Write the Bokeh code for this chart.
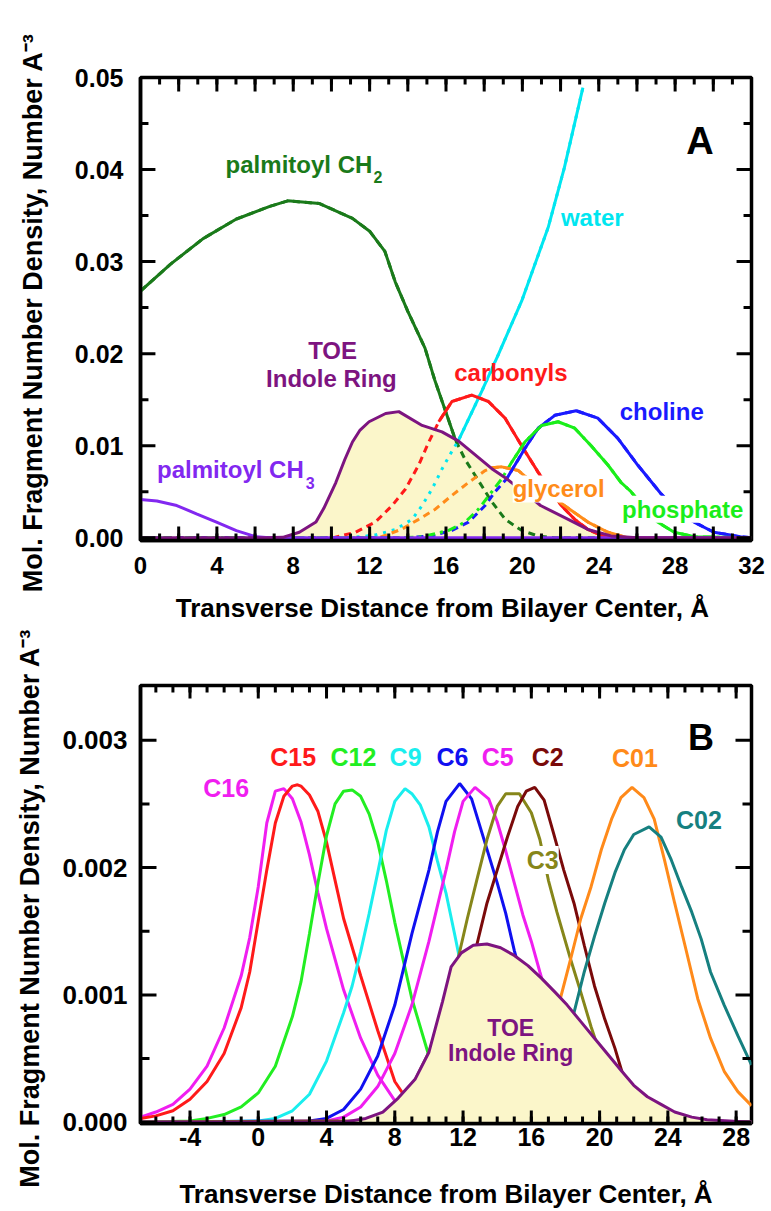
import numpy as np
from bokeh.plotting import figure
from bokeh.models import (FixedTicker, Label, NumeralTickFormatter, Range1d)
from bokeh.layouts import column
from bokeh.embed import file_html
from bokeh.resources import INLINE

FONT = "Liberation Sans"

# ---------------- Panel A data ----------------
a_x_labels = list(range(0, 33, 4))
a_x_long = list(range(0, 33, 2))
a_x_short = list(range(0, 33))
a_y_ticks = [0.0, 0.01, 0.02, 0.03, 0.04, 0.05]
a_y_minor = [0.005, 0.015, 0.025, 0.035, 0.045]

ch2_x = [0, 1.56, 3.28, 5.0, 6.77, 7.71, 9.38, 11.1, 12.0, 12.8, 13.34, 14.0, 14.9, 15.4, 16.0, 16.5, 17.0, 17.7, 18.4, 19.1, 19.96, 20.8, 21.7, 32]
ch2_y = [0.0268, 0.0297, 0.0325, 0.0346, 0.0360, 0.0366, 0.0363, 0.0347, 0.0333, 0.0311, 0.0278, 0.0246, 0.0206, 0.0172, 0.0136, 0.0106, 0.0085, 0.0062, 0.0039, 0.0020, 0.0008, 0.0002, 0.0, 0.0]

water_x = [0, 10.5, 11.5, 12.3, 13.36, 14.23, 14.75, 15.27, 15.8, 16.2, 16.66, 17.87, 18.74, 19.96, 21.35, 22.2, 23.17]
water_y = [0, 0, 0.0001, 0.0003, 0.0009, 0.0020, 0.0035, 0.0053, 0.0075, 0.0090, 0.0106, 0.0159, 0.0199, 0.0257, 0.0337, 0.0402, 0.0489]

carb_x = [0, 10.1, 11.27, 12.3, 13.18, 13.88, 14.57, 15.1, 15.62, 16.31, 17.35, 18.22, 19.09, 19.96, 20.83, 22.04, 22.74, 23.43, 24.1, 24.8, 32]
carb_y = [0, 0, 0.0006, 0.0017, 0.0035, 0.0053, 0.0079, 0.0104, 0.0126, 0.0148, 0.0155, 0.0148, 0.0130, 0.0100, 0.0071, 0.0035, 0.0020, 0.0009, 0.0003, 0.0, 0]

gly_x = [0, 12.5, 13.7, 14.57, 15.44, 16.31, 17.18, 18.05, 18.4, 18.92, 19.79, 20.3, 22.2, 23.43, 24.48, 25.5, 32]
gly_y = [0, 0, 0.00095, 0.0020, 0.0031, 0.0046, 0.0060, 0.0073, 0.0076, 0.0077, 0.0073, 0.0064, 0.0035, 0.0017, 0.0006, 0, 0]

phos_x = [0, 13.5, 14.75, 16.14, 17.0, 17.7, 18.4, 18.92, 19.44, 20.13, 21.0, 21.87, 22.74, 23.6, 24.48, 25.17, 25.69, 26.4, 27.08, 27.95, 29.0, 32]
phos_y = [0, 0, 0.0001, 0.0008, 0.0017, 0.0031, 0.0050, 0.0064, 0.0082, 0.0104, 0.0122, 0.0126, 0.0119, 0.0100, 0.0079, 0.0060, 0.0050, 0.0032, 0.0017, 0.0006, 0.0001, 0]

chol_x = [0, 14.0, 15.27, 16.31, 17.18, 18.05, 18.57, 19.18, 19.61, 20.13, 20.83, 21.7, 22.82, 23.95, 25.0, 26.04, 26.9, 27.25, 28.1, 28.99, 30.03, 31.42, 32]
chol_y = [0, 0, 0.0002, 0.0008, 0.0017, 0.0035, 0.0050, 0.0064, 0.0079, 0.0097, 0.0119, 0.0133, 0.0138, 0.0130, 0.0108, 0.0079, 0.0057, 0.0048, 0.0030, 0.0017, 0.0006, 0.0001, 0]

ch3_x = [0, 0.86, 1.9, 2.93, 3.98, 5.02, 6.06, 6.74, 32]
ch3_y = [0.00415, 0.0040, 0.0035, 0.0026, 0.0017, 0.00077, 0.0001, 0.0, 0.0]

toeA_x = [0, 6.6, 7.45, 8.32, 9.19, 9.6, 10.23, 10.7, 11.1, 11.5, 11.97, 12.84, 13.53, 14.75, 15.79, 16.66, 17.53, 18.4, 19.18, 20.3, 20.95, 22.4, 23.43, 24.65, 26.0, 32]
toeA_y = [0, 0, 0.00004, 0.0006, 0.0017, 0.0032, 0.0060, 0.0085, 0.0104, 0.0117, 0.0126, 0.0135, 0.0137, 0.0122, 0.0115, 0.0105, 0.0090, 0.0075, 0.0064, 0.0046, 0.0035, 0.0020, 0.0009, 0.0002, 0.0, 0]

# ---------------- Panel B data ----------------
b_x_ticks = list(range(-4, 29, 4))
b_x_minor = list(range(-6, 29))
b_y_ticks = [0.0, 0.001, 0.002, 0.003]
b_y_minor = [0.0005, 0.0015, 0.0025]

c16_x = [-6.9, -6.0, -5.0, -4.0, -3.0, -2.0, -1.0, -0.5, 0.0, 0.5, 1.0, 1.5, 2.0, 2.5, 3.0, 3.5, 4.0, 5.0, 6.0, 7.0, 8.0, 9.0, 10.0, 12.0, 28.9]
c16_y = [0.00004, 0.00008, 0.00014, 0.00026, 0.00044, 0.00074, 0.00115, 0.00145, 0.00185, 0.00235, 0.00260, 0.00262, 0.00254, 0.00236, 0.00210, 0.00180, 0.00152, 0.00104, 0.00066, 0.00037, 0.00017, 0.00007, 0.00003, 0.0, 0.0]

c15_x = [-6.9, -6.0, -5.0, -4.0, -3.0, -2.0, -1.0, -0.5, 0.0, 0.5, 1.0, 1.5, 2.0, 2.3, 2.5, 3.0, 3.5, 4.0, 4.5, 5.0, 6.0, 7.0, 8.0, 9.0, 10.0, 11.0, 13.0, 28.9]
c15_y = [0.00003, 0.00005, 0.00009, 0.00018, 0.00032, 0.00054, 0.00090, 0.00118, 0.00158, 0.00198, 0.00235, 0.00256, 0.00264, 0.00265, 0.00264, 0.00257, 0.00244, 0.00220, 0.00190, 0.00160, 0.00115, 0.00072, 0.00032, 0.00012, 0.00004, 0.00001, 0.0, 0.0]

c12_x = [-6.9, -4.0, -3.0, -2.0, -1.0, 0.0, 1.0, 2.0, 2.5, 3.0, 3.5, 4.0, 4.5, 5.0, 5.5, 6.0, 6.5, 7.0, 7.5, 8.0, 9.0, 10.0, 11.0, 12.0, 13.0, 15.0, 28.9]
c12_y = [0.0, 0.00001, 0.00003, 0.00006, 0.00012, 0.00023, 0.00044, 0.00083, 0.00110, 0.00148, 0.00188, 0.00225, 0.00250, 0.00260, 0.00261, 0.00256, 0.00242, 0.00220, 0.00190, 0.00157, 0.00097, 0.00052, 0.00024, 0.00010, 0.00004, 0.0, 0.0]

c9_x = [-6.9, 0.0, 1.0, 2.0, 3.0, 4.0, 5.0, 5.5, 6.0, 6.5, 7.0, 7.5, 8.0, 8.6, 9.0, 9.5, 10.0, 10.5, 11.0, 11.5, 12.0, 13.0, 14.0, 15.0, 16.0, 17.0, 19.0, 28.9]
c9_y = [0.0, 0.00001, 0.00003, 0.00009, 0.00022, 0.00048, 0.00086, 0.00107, 0.00134, 0.00164, 0.00196, 0.00229, 0.00252, 0.00262, 0.00258, 0.00249, 0.00232, 0.00205, 0.00180, 0.00148, 0.00115, 0.00062, 0.00028, 0.00011, 0.00004, 0.00001, 0.0, 0.0]

c6_x = [-6.9, 3.0, 4.0, 5.0, 6.0, 7.0, 8.0, 9.0, 10.0, 10.5, 11.0, 11.8, 12.5, 13.0, 13.5, 14.0, 14.5, 15.0, 16.0, 17.0, 18.0, 19.0, 20.0, 22.0, 28.9]
c6_y = [0.0, 0.00001, 0.00003, 0.00010, 0.00026, 0.00052, 0.00092, 0.00148, 0.00198, 0.00228, 0.00252, 0.00266, 0.00254, 0.00232, 0.00210, 0.00188, 0.00164, 0.00135, 0.00085, 0.00045, 0.00020, 0.00008, 0.00003, 0.0, 0.0]

c5_x = [-6.9, 4.0, 5.0, 6.0, 7.0, 8.0, 9.0, 10.0, 11.0, 11.5, 12.0, 12.7, 13.5, 14.0, 14.5, 15.0, 15.5, 16.0, 16.5, 17.0, 18.0, 19.0, 20.0, 21.0, 23.0, 28.9]
c5_y = [0.0, 0.00001, 0.00004, 0.00012, 0.00028, 0.00054, 0.00092, 0.00142, 0.00198, 0.00228, 0.00252, 0.00263, 0.00254, 0.00236, 0.00213, 0.00188, 0.00163, 0.00142, 0.00118, 0.00095, 0.00056, 0.00028, 0.00012, 0.00004, 0.0, 0.0]

c3_x = [-6.9, 6.0, 7.0, 8.0, 9.0, 10.0, 11.0, 11.7, 12.25, 12.8, 13.4, 14.0, 14.5, 15.3, 16.0, 16.5, 17.0, 17.5, 18.3, 18.9, 19.5, 20.0, 21.0, 22.0, 23.0, 25.0, 28.9]
c3_y = [0.0, 0.00001, 0.00004, 0.00012, 0.00028, 0.00055, 0.00095, 0.00128, 0.00160, 0.00190, 0.00222, 0.00248, 0.00258, 0.00258, 0.00243, 0.00222, 0.00190, 0.00165, 0.00128, 0.00102, 0.00075, 0.00055, 0.00028, 0.00012, 0.00005, 0.0, 0.0]

c2_x = [-6.9, 7.0, 8.0, 9.0, 10.0, 11.0, 12.0, 12.8, 13.4, 14.0, 14.6, 15.2, 15.7, 16.2, 16.75, 17.3, 17.9, 18.5, 19.1, 19.7, 20.3, 20.9, 21.3, 22.0, 23.0, 24.0, 25.0, 27.0, 28.9]
c2_y = [0.0, 0.00001, 0.00004, 0.00012, 0.00030, 0.00060, 0.00100, 0.00139, 0.00172, 0.00198, 0.00224, 0.00248, 0.00260, 0.00263, 0.00253, 0.00227, 0.00198, 0.00172, 0.00139, 0.00107, 0.00081, 0.00058, 0.00040, 0.00024, 0.00010, 0.00004, 0.00001, 0.0, 0.0]

c01_x = [-6.9, 12.0, 13.0, 14.0, 15.0, 16.0, 17.0, 17.7, 18.3, 18.9, 19.5, 20.1, 20.7, 21.25, 21.9, 22.6, 23.2, 23.8, 24.4, 25.0, 25.75, 26.5, 27.3, 28.1, 28.9]
c01_y = [0.0, 0.0, 0.00002, 0.00006, 0.00016, 0.00035, 0.00066, 0.00097, 0.00128, 0.00160, 0.00185, 0.00214, 0.00238, 0.00255, 0.00263, 0.00255, 0.00238, 0.00206, 0.00172, 0.00139, 0.00097, 0.00066, 0.00040, 0.00024, 0.00013]

c02_x = [-6.9, 12.0, 13.0, 14.0, 15.0, 16.0, 17.0, 18.0, 18.5, 19.1, 19.7, 20.3, 20.9, 21.45, 22.0, 22.9, 23.6, 24.2, 24.8, 25.4, 25.95, 26.5, 27.3, 28.1, 28.9]
c02_y = [0.0, 0.0, 0.00002, 0.00006, 0.00013, 0.00025, 0.00042, 0.00064, 0.00086, 0.00118, 0.00146, 0.00172, 0.00196, 0.00214, 0.00226, 0.00232, 0.00224, 0.00206, 0.00185, 0.00165, 0.00144, 0.00118, 0.00092, 0.00068, 0.00045]

toeB_x = [-6.9, 5.0, 6.3, 7.3, 8.2, 9.2, 10.0, 10.8, 11.3, 11.9, 12.6, 13.4, 14.2, 15.0, 15.8, 16.6, 17.4, 18.1, 18.9, 19.7, 20.5, 21.3, 22.0, 22.8, 23.6, 24.4, 25.4, 26.3, 28.9]
toeB_y = [0.0, 0.0, 0.00003, 0.00008, 0.00019, 0.00034, 0.00055, 0.00095, 0.00122, 0.00133, 0.00139, 0.00140, 0.00137, 0.00131, 0.00123, 0.00113, 0.00102, 0.00092, 0.00079, 0.00066, 0.00053, 0.00040, 0.00029, 0.00020, 0.00014, 0.00008, 0.00004, 0.00002, 0.0]

# ---------------- styles ----------------
TOE_COLOR = "#7d1480"
FILL_COLOR = "#fbf6ca"
LW = 3
W = 771

A_X0, A_X1, A_Y0, A_Y1 = 0, 32, -0.0003, 0.05
B_X0, B_X1, B_Y0, B_Y1 = -6.9, 28.9, -0.00001, 0.00343

A_H, A_BL, A_BR, A_BT, A_BB = 628, 137, 20, 77, 88
B_H, B_BL, B_BR, B_BT, B_BB = 583, 140, 20, 57, 88


def style_axis(ax, ticker, fmt, fs, standoff):
    ax.ticker = ticker
    ax.formatter = fmt
    ax.axis_line_width = 3.5
    ax.axis_line_color = "black"
    ax.major_tick_in = 0
    ax.major_tick_out = 0
    ax.minor_tick_in = 0
    ax.minor_tick_out = 0
    ax.major_label_text_font = FONT
    ax.major_label_text_font_style = "bold"
    ax.major_label_text_font_size = f"{fs}px"
    ax.major_label_text_color = "black"
    ax.major_label_standoff = standoff


def style_title(ax, fs, standoff):
    ax.axis_label_text_font = FONT
    ax.axis_label_text_font_style = "bold"
    ax.axis_label_text_font_size = f"{fs}px"
    ax.axis_label_text_color = "black"
    ax.axis_label_standoff = standoff


def draw_ticks(p, xr, yr, fw, fh, xlong, xshort, ylong, yshort, lx, sx, ly, sy):
    """Inward ticks on all four frame sides (tick values from the tick lists)."""
    x0, x1 = xr
    y0, y1 = yr
    dx = (x1 - x0) / fw
    dy = (y1 - y0) / fh
    a0, b0, a1, b1 = [], [], [], []
    for ticks, L in ((xlong, lx), (xshort, sx)):
        for t in ticks:
            a0 += [t, t]; a1 += [t, t]
            b0 += [y0, y1]; b1 += [y0 + L * dy, y1 - L * dy]
    for ticks, L in ((ylong, ly), (yshort, sy)):
        for t in ticks:
            b0 += [t, t]; b1 += [t, t]
            a0 += [x0, x1]; a1 += [x0 + L * dx, x1 - L * dx]
    p.segment(a0, b0, a1, b1, line_color="black", line_width=3)


def label(p, x, y, text, color, fs, align="center", baseline="middle", bg=None):
    lab = Label(x=x, y=y, text=text, text_color=color, text_font=FONT,
                text_font_style="bold", text_font_size=f"{fs}px",
                text_align=align, text_baseline=baseline)
    if bg is not None:
        lab.background_fill_color = bg
    p.add_layout(lab)


def solid_part(x, y, tx, ty, tol=0.0003):
    x = np.asarray(x, float)
    y = np.asarray(y, float)
    t = np.interp(x, tx, ty)
    return np.where(y >= t - tol, y, np.nan)


# ---------------- Panel A ----------------
pA = figure(width=W, height=A_H, x_range=Range1d(A_X0, A_X1), y_range=Range1d(A_Y0, A_Y1),
            output_backend="svg", toolbar_location=None,
            min_border_left=A_BL, min_border_right=A_BR, min_border_top=A_BT, min_border_bottom=A_BB)
pA.grid.visible = False
pA.outline_line_color = "black"
pA.outline_line_width = 3.5

style_axis(pA.xaxis[0], FixedTicker(ticks=a_x_labels), NumeralTickFormatter(format="0"), 24, 16)
style_axis(pA.yaxis[0], FixedTicker(ticks=a_y_ticks), NumeralTickFormatter(format="0.00"), 25, 17)
pA.xaxis.axis_label = "Transverse Distance from Bilayer Center,  \u00c5"
pA.yaxis.axis_label = "Mol. Fragment Number Density,  Number A\u207b\u00b3"
style_title(pA.xaxis[0], 26, 16)
style_title(pA.yaxis[0], 27, 24)

# TOE area underlay
pA.varea(x=toeA_x, y1=np.full(len(toeA_x), A_Y0), y2=toeA_y, fill_color=FILL_COLOR)

curvesA = [
    (ch2_x, ch2_y, "#1a7a1a", "7 5"),
    (water_x, water_y, "#00e6f0", "3 6"),
    (carb_x, carb_y, "#ff1a1a", "7 5"),
    (gly_x, gly_y, "#ff8c1a", "7 5"),
    (chol_x, chol_y, "#1a1aff", "7 5"),
    (phos_x, phos_y, "#1aee1a", "9 5 3 5"),
]
for cx, cy, col, dash in curvesA:
    pA.line(cx, cy, line_color=col, line_width=LW, line_dash=dash)
for cx, cy, col, dash in curvesA:
    pA.line(cx, solid_part(cx, cy, toeA_x, toeA_y), line_color=col, line_width=LW)
pA.line(ch3_x, ch3_y, line_color="#8228f0", line_width=LW)
pA.line(toeA_x, toeA_y, line_color=TOE_COLOR, line_width=LW)

draw_ticks(pA, (A_X0, A_X1), (A_Y0, A_Y1), W - A_BL - A_BR, A_H - A_BT - A_BB,
           a_x_long, a_x_short, a_y_ticks, a_y_minor, 14, 7, 15, 8)

label(pA, 12.14, 0.0406, "palmitoyl CH", "#1a7a1a", 24, align="right")
label(pA, 12.2, 0.0392, "2", "#1a7a1a", 16, align="left")
label(pA, 23.66, 0.0348, "water", "#00e6f0", 24)
label(pA, 29.3, 0.0431, "A", "black", 38)
label(pA, 10.06, 0.0203, "TOE", TOE_COLOR, 24)
label(pA, 10.0, 0.0173, "Indole Ring", TOE_COLOR, 24)
label(pA, 19.4, 0.0180, "carbonyls", "#ff1a1a", 24)
label(pA, 27.3, 0.0137, "choline", "#1a1aff", 24)
label(pA, 21.9, 0.0053, "glycerol", "#ff8c1a", 24, bg="white")
label(pA, 28.4, 0.0031, "phosphate", "#1aee1a", 24, bg="white")
label(pA, 8.55, 0.0074, "palmitoyl CH", "#8228f0", 24, align="right")
label(pA, 8.65, 0.0060, "3", "#8228f0", 16, align="left")

# ---------------- Panel B ----------------
pB = figure(width=W, height=B_H, x_range=Range1d(B_X0, B_X1), y_range=Range1d(B_Y0, B_Y1),
            output_backend="svg", toolbar_location=None,
            min_border_left=B_BL, min_border_right=B_BR, min_border_top=B_BT, min_border_bottom=B_BB)
pB.grid.visible = False
pB.outline_line_color = "black"
pB.outline_line_width = 3.5

style_axis(pB.xaxis[0], FixedTicker(ticks=b_x_ticks), NumeralTickFormatter(format="0"), 25, 4)
style_axis(pB.yaxis[0], FixedTicker(ticks=b_y_ticks), NumeralTickFormatter(format="0.000"), 26, 13)
pB.xaxis.axis_label = "Transverse Distance from Bilayer Center, \u00c5"
pB.yaxis.axis_label = "Mol. Fragment Number Density,  Number A\u207b\u00b3"
style_title(pB.xaxis[0], 26, 30)
style_title(pB.yaxis[0], 27, 14)

curvesB = [
    (c16_x, c16_y, "#f01ef0"),
    (c15_x, c15_y, "#ff1a1a"),
    (c12_x, c12_y, "#22ee22"),
    (c9_x, c9_y, "#1aeeee"),
    (c6_x, c6_y, "#1010f0"),
    (c5_x, c5_y, "#f01ef0"),
    (c3_x, c3_y, "#86861a"),
    (c2_x, c2_y, "#7a0a0a"),
    (c01_x, c01_y, "#ff8a1a"),
    (c02_x, c02_y, "#168080"),
]
for cx, cy, col in curvesB:
    pB.line(cx, cy, line_color=col, line_width=LW)

# TOE area on top of the fragment curves
pB.varea(x=toeB_x, y1=np.full(len(toeB_x), B_Y0), y2=toeB_y, fill_color=FILL_COLOR)
pB.line(toeB_x, toeB_y, line_color=TOE_COLOR, line_width=LW)

draw_ticks(pB, (B_X0, B_X1), (B_Y0, B_Y1), W - B_BL - B_BR, B_H - B_BT - B_BB,
           b_x_ticks, b_x_minor, b_y_ticks, b_y_minor, 13, 7, 16, 9)

label(pB, -1.88, 0.002625, "C16", "#f01ef0", 25)
label(pB, 2.05, 0.00287, "C15", "#ff1a1a", 25)
label(pB, 5.58, 0.00287, "C12", "#22ee22", 25)
label(pB, 8.63, 0.00287, "C9", "#1aeeee", 25)
label(pB, 11.38, 0.00287, "C6", "#1010f0", 25)
label(pB, 14.03, 0.00287, "C5", "#f01ef0", 25)
label(pB, 16.96, 0.00287, "C2", "#7a0a0a", 25)
label(pB, 22.07, 0.00286, "C01", "#ff8a1a", 25)
label(pB, 25.82, 0.002375, "C02", "#168080", 25)
label(pB, 16.67, 0.00206, "C3", "#86861a", 25, bg="white")
label(pB, 25.94, 0.00302, "B", "black", 36)
label(pB, 14.79, 0.00074, "TOE", TOE_COLOR, 23)
label(pB, 14.79, 0.00054, "Indole Ring", TOE_COLOR, 23)

layout = column(pA, pB)
open("out.html", "w").write(file_html(layout, INLINE))
